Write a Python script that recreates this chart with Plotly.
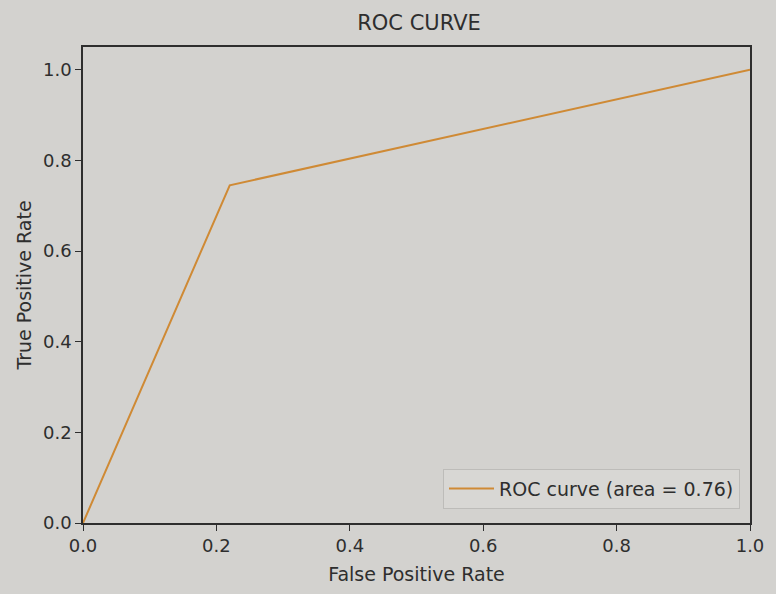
import plotly.graph_objects as go

# ROC curve points
fpr = [0.0, 0.22, 1.0]
tpr = [0.0, 0.745, 1.0]
roc_auc = 0.76

tick_vals = [0.0, 0.2, 0.4, 0.6, 0.8, 1.0]
tick_text = ["0.0", "0.2", "0.4", "0.6", "0.8", "1.0"]

bg = "#d3d2cf"
ink = "#2e2e2e"
font_family = "DejaVu Sans, Open Sans, sans-serif"

fig = go.Figure()
fig.add_trace(go.Scatter(
    x=fpr, y=tpr, mode="lines",
    line=dict(color="#cf8a35", width=2),
    name=f"ROC curve (area = {roc_auc:.2f})",
))

axis_common = dict(
    showline=True, linecolor=ink, linewidth=1.5, mirror=True,
    ticks="outside", ticklen=6, tickcolor=ink, tickwidth=1,
    showgrid=False, zeroline=False,
    tickvals=tick_vals, ticktext=tick_text,
    tickfont=dict(size=18, color=ink, family=font_family),
)

fig.update_layout(
    width=776, height=594,
    margin=dict(l=83, r=17, t=47, b=69),
    paper_bgcolor=bg, plot_bgcolor=bg,
    font=dict(family=font_family, color=ink),
    title=dict(text="ROC CURVE", x=0.54, xanchor="center", y=0.962, yanchor="middle",
               font=dict(size=21, color=ink)),
    xaxis=dict(range=[0, 1.0], title=dict(text="False Positive Rate", font=dict(size=19), standoff=12),
               **axis_common),
    yaxis=dict(range=[0, 1.05], title=dict(text="True Positive Rate", font=dict(size=19), standoff=6),
               **axis_common),
    showlegend=True,
    legend=dict(x=0.985, y=0.03, xanchor="right", yanchor="bottom",
                bgcolor="#d8d7d4", bordercolor="#bdbcb9", borderwidth=1,
                itemwidth=45,
                font=dict(size=19, color=ink)),
)

fig.write_html("out.html")
